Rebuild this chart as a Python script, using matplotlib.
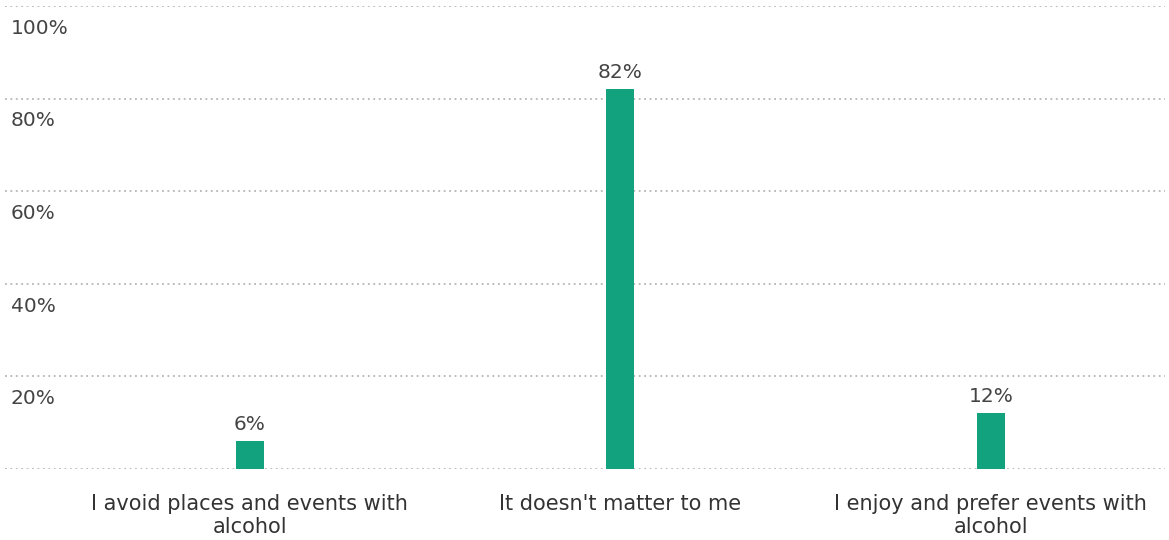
import matplotlib
matplotlib.use('Agg')
from matplotlib import pyplot as plt
from matplotlib.transforms import blended_transform_factory

plt.rcParams.update({'font.family': 'DejaVu Sans', 'font.size': 13})

categories = ['I avoid places and events with\nalcohol',
              "It doesn't matter to me",
              'I enjoy and prefer events with\nalcohol']
values = [6, 82, 12]
y_ticks = [0, 20, 40, 60, 80, 100]
y_tick_labels = ['', '20%', '40%', '60%', '80%', '100%']

fig = plt.figure(figsize=(11.69, 5.40), dpi=100)
ax = fig.add_axes([5 / 1169, 1 - 469 / 540, 1160 / 1169, 463 / 540])

x = list(range(len(categories)))
ax.bar(x, values, width=0.076, color='#12a37e', zorder=3)

for xi, v in zip(x, values):
    ax.annotate(f'{v}%', (xi, v), xytext=(0, 5), textcoords='offset points',
                ha='center', va='bottom', color='#444444', fontsize=14.5)

for yv in y_ticks:
    ax.axhline(yv, color='#b5b5b5', linestyle=(0, (1, 2)), linewidth=1.3, zorder=1)

# y labels sit just below their gridlines, left-aligned
trans = blended_transform_factory(fig.transFigure, ax.transData)
for yv, lab in zip(y_ticks, y_tick_labels):
    if lab:
        fig.text(11 / 1169, yv - 4.8, lab, transform=trans, ha='left', va='center',
                 color='#444444', fontsize=14.5)

ax.set_xlim(-0.661, 2.47)
ax.set_ylim(0, 100)
ax.set_xticks(x)
ax.set_xticklabels(categories, color='#333333', fontsize=15, linespacing=1.2)
ax.tick_params(axis='x', length=0, pad=18)
ax.set_yticks([])
for s in ax.spines.values():
    s.set_visible(False)

fig.savefig('out.png', dpi=100)
